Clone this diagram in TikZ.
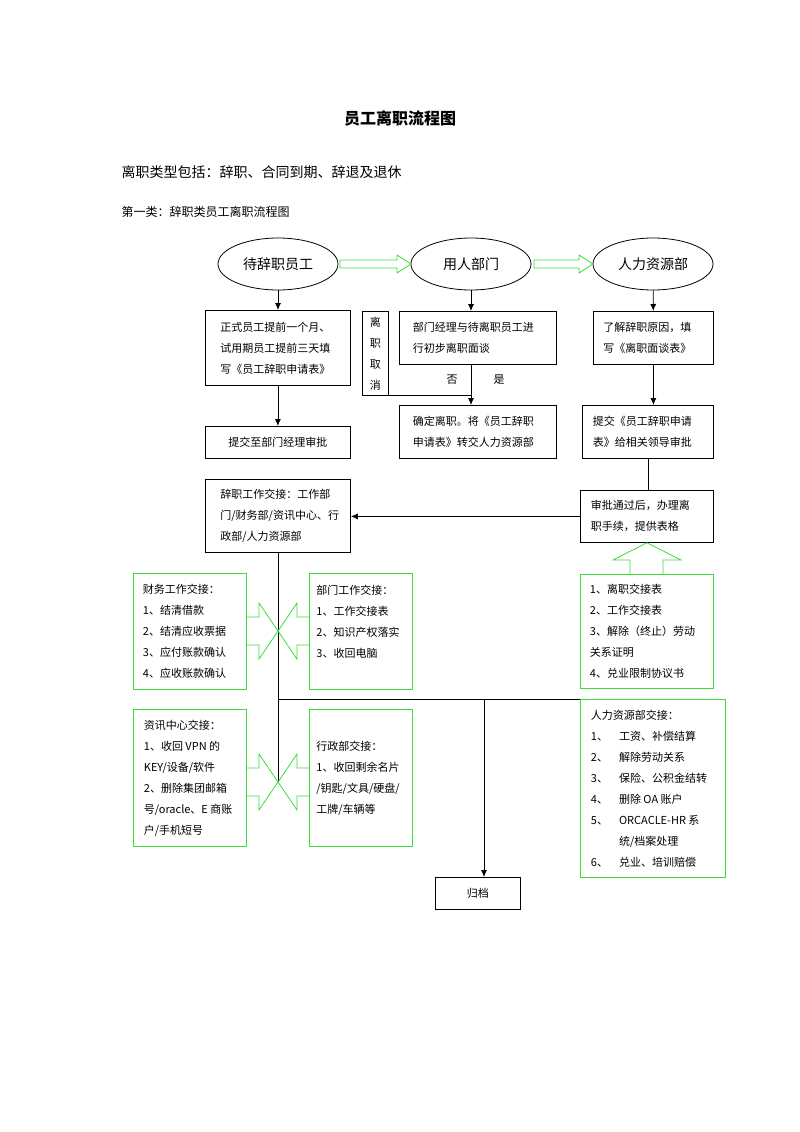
\documentclass[tikz,border=0pt]{standalone}
\usepackage{fontspec}
\setmainfont{Noto Sans CJK SC}
\usetikzlibrary{shapes.geometric,arrows.meta}
\definecolor{hgreen}{RGB}{60,220,60}
\tikzset{
  box/.style={draw,thick,anchor=north west,align=left,inner sep=0pt,
    font=\fontsize{11}{21}\selectfont},
  gbox/.style={box,draw=hgreen},
  oval/.style={draw,thick,ellipse,minimum width=120,minimum height=52,
    font=\fontsize{14}{16}\selectfont},
  flow/.style={thick,-{Latex[length=7pt,width=6pt]}},
  garrow/.style={draw=hgreen,thick},
}
\begin{document}
\begin{tikzpicture}[x=1pt,y=-1pt]
  \useasboundingbox (0,0) rectangle (800,1132);
  % headings
  \node[font=\fontsize{16}{18}\selectfont\bfseries] (title) at (400,118) {员工离职流程图};
  \node[anchor=west,font=\fontsize{14}{16}\selectfont] (types) at (118,172) {离职类型包括：辞职、合同到期、辞退及退休};
  \node[anchor=west,font=\fontsize{12}{14}\selectfont] (first) at (118,212) {第一类：辞职类员工离职流程图};
  % ovals
  \node[oval] (emp) at (278,264) {待辞职员工};
  \node[oval] (dept) at (471,264) {用人部门};
  \node[oval] (hr) at (653,264) {人力资源部};
  % green block arrows between ovals
  \foreach \a/\b in {340/411,534/593}
    \draw[garrow] (\a,260) -- (\b-14,260) -- (\b-14,255) -- (\b,264)
      -- (\b-14,273) -- (\b-14,268) -- (\a,268) -- cycle;
  % left column
  \node[box,minimum width=145,minimum height=75] (apply) at (205,310)
    {\hspace{10pt}\parbox{125pt}{正式员工提前一个月、\\试用期员工提前三天填\\写《员工辞职申请表》}};
  \node[box,minimum width=145,minimum height=32,align=center] (submit) at (205,426) {提交至部门经理审批};
  \node[box,minimum width=145,minimum height=73] (handover) at (205,479)
    {\hspace{10pt}\parbox{125pt}{辞职工作交接：工作部\\门/财务部/资讯中心、行\\政部/人力资源部}};
  % middle column
  \node[box,minimum width=26,minimum height=84,align=center] (cancel) at (362,311) {离\\职\\取\\消};
  \node[box,minimum width=157,minimum height=53] (talk) at (399,311)
    {\hspace{10pt}\parbox{140pt}{部门经理与待离职员工进\\行初步离职面谈}};
  \node[box,minimum width=157,minimum height=53] (confirm) at (399,405)
    {\hspace{10pt}\parbox{140pt}{确定离职。将《员工辞职\\申请表》转交人力资源部}};
  \node[font=\fontsize{11}{12}\selectfont] (no) at (452,380) {否};
  \node[font=\fontsize{11}{12}\selectfont] (yes) at (499,380) {是};
  % right column
  \node[box,minimum width=120,minimum height=53] (reason) at (593,311)
    {\hspace{8pt}\parbox{108pt}{了解辞职原因，填\\写《离职面谈表》}};
  \node[box,minimum width=131,minimum height=53] (report) at (582,405)
    {\hspace{8pt}\parbox{118pt}{提交《员工辞职申请\\表》给相关领导审批}};
  \node[box,minimum width=133,minimum height=52] (approve) at (580,490)
    {\hspace{8pt}\parbox{120pt}{审批通过后，办理离\\职手续，提供表格}};
  \node[gbox,minimum width=133,minimum height=114] (forms) at (580,574)
    {\hspace{8pt}\parbox{122pt}{1、离职交接表\\2、工作交接表\\3、解除（终止）劳动\\关系证明\\4、兑业限制协议书}};
  % green boxes
  \node[gbox,minimum width=113,minimum height=116] (fin) at (133,573)
    {\hspace{8pt}\parbox{102pt}{财务工作交接：\\1、结清借款\\2、结清应收票据\\3、应付账款确认\\4、应收账款确认}};
  \node[gbox,minimum width=103,minimum height=116] (work) at (309,573)
    {\hspace{6pt}\parbox{95pt}{部门工作交接：\\1、工作交接表\\2、知识产权落实\\3、收回电脑\\~}};
  \node[gbox,minimum width=113,minimum height=137] (it) at (133,709)
    {\hspace{8pt}\parbox{100pt}{资讯中心交接：\\1、收回 VPN 的\\KEY/设备/软件\\2、删除集团邮箱\\号/oracle、E 商账\\户/手机短号}};
  \node[gbox,minimum width=103,minimum height=137] (admin) at (309,709)
    {\hspace{6pt}\parbox{95pt}{行政部交接：\\1、收回剩余名片\\/钥匙/文具/硬盘/\\工牌/车辆等}};
  \node[gbox,minimum width=145,minimum height=178] (hrdesk) at (580,699)
    {\hspace{8pt}\parbox{132pt}{人力资源部交接：\\1、\quad 工资、补偿结算\\2、\quad 解除劳动关系\\3、\quad 保险、公积金结转\\4、\quad 删除 OA 账户\\5、\quad ORCACLE-HR 系\\\phantom{5、}\quad 统/档案处理\\6、\quad 兑业、培训赔偿}};
  \node[box,minimum width=85,minimum height=32,align=center] (archive) at (435,877) {归档};
  % connectors
  \draw[flow] (emp) -- (apply.north -| emp);
  \draw[flow] (apply) -- (submit);
  \draw[flow] (dept) -- (talk.north -| dept);
  \draw[flow] (talk.south -| dept) -- (confirm.north -| dept);
  \coordinate (split) at (471,395);
  \draw[thick] (split) -- (split -| cancel.east);
  \draw[flow] (hr) -- (reason);
  \draw[flow] (reason.south) -- (reason.south |- report.north);
  \draw[thick] (report.south) -- (report.south |- approve.north);
  \draw[flow] (approve.west) -- (approve.west -| handover.east);
  % green up arrow into approval box
  \draw[garrow] (630,574) -- (630,560) -- (613,560) -- (approve.south)
    -- (681,560) -- (663,560) -- (663,574);
  % trunk line
  \coordinate (trunk) at (278,782);
  \coordinate (hub) at (278,631);
  \coordinate (fork) at (484,699);
  \draw[thick] (handover.south -| trunk) -- (trunk);
  \draw[thick] (trunk |- fork) -- (hrdesk.west |- fork);
  \draw[flow] (fork) -- (archive.north -| fork);
  % green arrows towards the trunk
  \foreach \c in {hub,trunk} {
    \draw[garrow] ([shift={(-32,-14)}]\c) -- ([shift={(-19,-14)}]\c) -- ([shift={(-19,-28)}]\c)
      -- (\c) -- ([shift={(-19,28)}]\c) -- ([shift={(-19,14)}]\c) -- ([shift={(-32,14)}]\c);
    \draw[garrow] ([shift={(31,-14)}]\c) -- ([shift={(19,-14)}]\c) -- ([shift={(19,-28)}]\c)
      -- (\c) -- ([shift={(19,28)}]\c) -- ([shift={(19,14)}]\c) -- ([shift={(31,14)}]\c);
  }
\end{tikzpicture}
\end{document}
